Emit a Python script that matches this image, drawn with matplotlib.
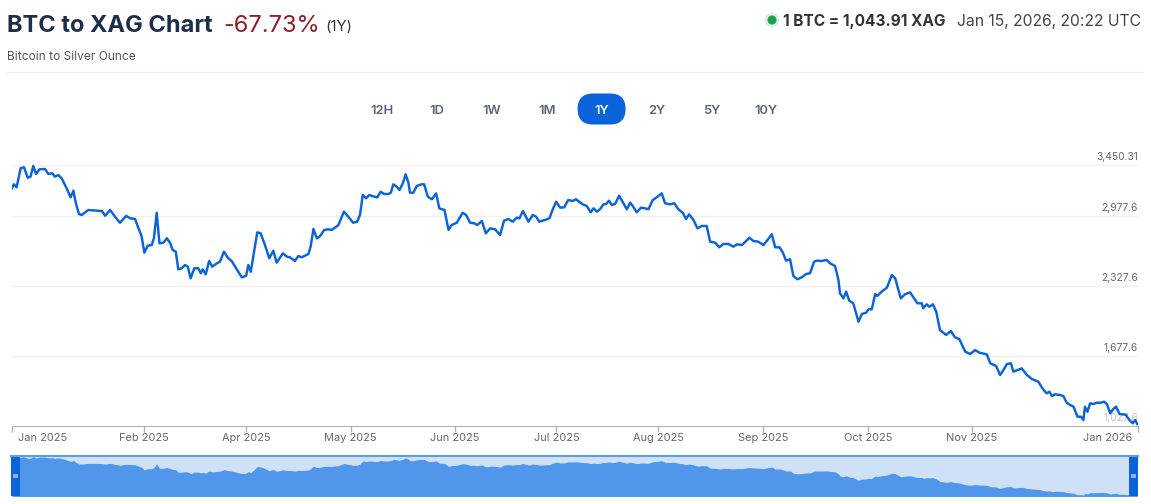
import matplotlib.pyplot as plt
from matplotlib.patches import FancyBboxPatch, Rectangle, Circle

W, H = 1151, 504

# days since start of the 1Y window, and BTC price in silver ounces
days = [0, 0.6, 1.5, 2.8, 3.9, 5.1, 6.0, 6.9, 7.8, 8.9, 10.7, 11.8, 13.1, 13.9, 15.0, 16.1,
        17.7, 19.0, 19.9, 20.7, 21.7, 22.6, 24.7, 27.5, 29.1, 30.2, 31.8, 33.4, 35.0, 37.0,
        38.3, 39.9, 40.8, 42.0, 42.9, 44.0, 45.3, 46.0, 46.9, 47.8, 49.1, 50.2, 51.2, 52.1,
        53.1, 53.9, 55.0, 56.1, 57.0, 57.9, 59.1, 60.4, 61.2, 61.8, 62.8, 63.9, 64.9, 66.4,
        67.4, 68.7, 70.1, 71.2, 72.8, 74.5, 75.9, 76.6, 77.4, 78.2, 79.5, 80.6, 82.0, 83.4,
        84.7, 85.8, 87.8, 89.1, 90.1, 91.7, 92.8, 93.9, 96.1, 96.8, 97.7, 98.8, 99.9, 101.2,
        102.5, 103.6, 104.7, 105.8, 107.6, 109.0, 110.6, 111.9, 112.8, 113.7, 114.8, 115.8,
        117.4, 118.4, 119.5, 120.6, 122.0, 122.8, 123.6, 124.7, 125.6, 126.7, 127.6, 128.5,
        129.0, 130.1, 131.2, 132.8, 133.6, 134.8, 136.1, 137.5, 138.5, 140.2, 141.5, 142.5,
        144.2, 145.0, 146.1, 147.2, 148.5, 149.8, 150.8, 152.3, 153.6, 155.0, 156.6, 158.2,
        159.5, 160.9, 162.3, 163.6, 164.5, 165.6, 166.3, 167.4, 168.8, 169.9, 170.9, 172.8,
        174.2, 175.3, 176.4, 177.7, 179.0, 180.3, 181.8, 182.8, 183.9, 185.0, 186.3, 187.6,
        188.5, 189.6, 190.6, 191.7, 192.6, 193.5, 194.4, 195.5, 196.8, 197.9, 199.3, 200.4,
        201.2, 202.5, 203.9, 205.2, 206.3, 207.7, 209.0, 210.6, 211.7, 213.3, 214.7, 216.0,
        217.4, 218.5, 219.5, 220.9, 222.2, 223.6, 225.2, 226.3, 227.9, 229.3, 230.6, 232.2,
        233.8, 235.1, 236.6, 238.0, 239.0, 240.3, 241.9, 243.6, 244.9, 246.3, 247.4, 248.8,
        249.9, 250.9, 252.2, 253.3, 254.6, 256.0, 257.4, 258.7, 260.0, 260.9, 262.5, 264.1,
        265.2, 266.8, 267.9, 268.4, 269.5, 270.4, 271.4, 272.7, 274.4, 275.5, 276.9, 277.6,
        278.7, 279.8, 280.5, 281.9, 283.6, 285.2, 286.3, 288.1, 289.5, 291.1, 292.2, 293.5,
        294.9, 295.4, 296.5, 297.4, 298.5, 299.6, 300.8, 302.8, 304.3, 305.7, 307.1, 309.0,
        310.6, 312.2, 313.6, 316.0, 317.1, 319.0, 320.3, 321.4, 322.5, 323.8, 324.6, 327.3,
        329.0, 330.6, 332.7, 333.8, 334.6, 335.4, 336.3, 337.1, 338.1, 339.8, 340.8, 341.9,
        343.0, 344.1, 345.4, 346.5, 347.3, 347.8, 348.6, 349.5, 350.6, 351.6, 352.9, 354.0,
        354.9, 356.0, 356.9, 357.9, 359.0, 360.1, 361.1, 362.2, 363.3, 364.1, 364.8]
ratio = [3235, 3272, 3244, 3421, 3430, 3333, 3343, 3442, 3368, 3411, 3414, 3368, 3374, 3343, 3358, 3328,
         3235, 3151, 3213, 3096, 2996, 2987, 3033, 3027, 3024, 2980, 3033, 2971, 2915, 2978,
         2956, 2950, 2878, 2792, 2637, 2702, 2708, 2771, 3008, 2724, 2730, 2771, 2730, 2662,
         2646, 2483, 2492, 2523, 2507, 2399, 2492, 2492, 2446, 2483, 2436, 2560, 2507, 2538,
         2553, 2646, 2585, 2560, 2485, 2408, 2423, 2523, 2460, 2600, 2826, 2817, 2708, 2585,
         2655, 2544, 2631, 2600, 2594, 2560, 2606, 2594, 2625, 2693, 2857, 2771, 2792, 2848,
         2854, 2848, 2869, 2894, 3018, 2971, 2915, 2925, 2987, 3173, 3142, 3173,
         3157, 3151, 3203, 3182, 3182, 3194, 3272, 3250, 3219, 3281, 3365, 3287,
         3194, 3194, 3256, 3272, 3272, 3157, 3133, 3188, 3049, 3033, 2848, 2894,
         2915, 2956, 3008, 2987, 2915, 2910, 2894, 2931, 2817, 2863, 2854, 2801,
         2934, 2950, 2925, 2962, 2956, 3024, 2987, 2925, 2987, 2971, 2925, 2941,
         2956, 3040, 3110, 3055, 3058, 3126, 3117, 3133, 3110, 3086, 3071, 3012,
         3049, 3018, 3040, 3086, 3089, 3120, 3080, 3089, 3166, 3110, 3040, 3101,
         3071, 3012, 3055, 3049, 3040, 3126, 3151, 3188, 3096, 3086, 3096, 3040,
         3008, 2950, 2993, 2941, 2863, 2885, 2885, 2739, 2730, 2687, 2718, 2718,
         2693, 2715, 2708, 2746, 2776, 2746, 2739, 2708, 2755, 2808, 2687, 2687,
         2637, 2563, 2576, 2420, 2390, 2408, 2439, 2446, 2553, 2563, 2560, 2569,
         2538, 2513, 2383, 2260, 2213, 2275, 2191, 2167, 1996, 2068, 2080, 2111,
         2111, 2253, 2235, 2275, 2312, 2430, 2399, 2213, 2251, 2269, 2223, 2167,
         2167, 2121, 2158, 2135, 2158, 2089, 1919, 1873, 1910, 1851, 1833, 1718,
         1696, 1733, 1708, 1693, 1610, 1585, 1501, 1548, 1603, 1610, 1532, 1563,
         1501, 1464, 1439, 1387, 1356, 1331, 1346, 1306, 1322, 1315, 1306, 1244,
         1223, 1207, 1114, 1114, 1083, 1207, 1160, 1238, 1232, 1244, 1244, 1253,
         1232, 1145, 1183, 1207, 1139, 1136, 1130, 1083, 1053, 1083, 1044]

tick_days = [0, 42.9, 75.8, 109.8, 143.6, 176.5, 209.5, 243.4, 277.4, 311.2, 365]
tick_labels = ['Jan 2025', 'Feb 2025', 'Apr 2025', 'May 2025', 'Jun 2025', 'Jul 2025',
               'Aug 2025', 'Sep 2025', 'Oct 2025', 'Nov 2025', 'Jan 2026']
grid_levels = [3450.31, 2977.6, 2327.6, 1677.6, 1027.6]
grid_labels = ['3,450.31', '2,977.6', '2,327.6', '1,677.6', '1,027.6']
ranges = ['12H', '1D', '1W', '1M', '1Y', '2Y', '5Y', '10Y']
active_range = '1Y'

BLUE = '#0a63d8'

plt.rcParams['font.family'] = ['Inter', 'DejaVu Sans']


def box(left, top, right, bottom):
    # pixel box -> figure fraction rect
    return [left / W, 1 - bottom / H, (right - left) / W, (bottom - top) / H]


def pixel_axes(zorder):
    a = fig.add_axes([0, 0, 1, 1])
    a.set_xlim(0, W)
    a.set_ylim(H, 0)
    a.axis('off')
    a.patch.set_alpha(0)
    a.set_zorder(zorder)
    return a


fig = plt.figure(figsize=(W / 100, H / 100), dpi=100)
fig.patch.set_facecolor('white')

# background layer in pixel units for header and buttons
bg = pixel_axes(0)

# header
bg.text(7, 32.3, 'BTC to XAG Chart', fontsize=17, fontweight='bold',
        color='#1f2d4d', va='baseline', ha='left')
bg.text(223, 32.3, '-67.73%', fontsize=17, color='#8b1c2c', va='baseline', ha='left')
bg.text(325, 31, '(1Y)', fontsize=10.8, color='#333333', va='baseline', ha='left')
bg.text(7, 60, 'Bitcoin to Silver Ounce', fontsize=8.6, color='#555555',
        va='baseline', ha='left')
bg.add_patch(Circle((772, 20), 7, color='#d7eedd', lw=0))
bg.add_patch(Circle((772, 20), 4.5, color='#17a34a', lw=0))
bg.text(783, 26, '1 BTC = 1,043.91 XAG', fontsize=11.1, fontweight='bold',
        color='#333333', va='baseline', ha='left')
bg.text(1141, 26, 'Jan 15, 2026, 20:22 UTC', fontsize=11.3, color='#444444',
        va='baseline', ha='right')
bg.plot([7, 1143], [72, 72], color='#ececec', lw=1)

# range selector buttons
for i, name in enumerate(ranges):
    cx = 382 + i * 54.9
    if name == active_range:
        bg.add_patch(FancyBboxPatch((cx - 24, 93.5), 48, 31,
                                    boxstyle='round,pad=0,rounding_size=15.5',
                                    color=BLUE, lw=0))
    bg.text(cx, 114.3, name, fontsize=9.3, fontweight='semibold',
            color='white' if name == active_range else '#5a6375',
            ha='center', va='baseline')

# main chart
ax = fig.add_axes(box(12, 155, 1138, 426))
ax.patch.set_alpha(0)
ax.set_zorder(2)
ax.plot(days, ratio, color=BLUE, lw=1.75, zorder=3, solid_joinstyle='round')
ax.set_xlim(0, 365)
ax.set_ylim(1027.6, 1027.6 + 271 * 650 / 70)
for lvl, lbl in zip(grid_levels, grid_labels):
    last = lvl == grid_levels[-1]
    if not last:
        ax.axhline(lvl, color='#f0f0f0', lw=1, zorder=1)
    ax.annotate(lbl, xy=(1, lvl), xycoords=('axes fraction', 'data'),
                xytext=(0, 3.6), textcoords='offset points', ha='right', va='baseline',
                fontsize=7.4, color='#c4c4c4' if last else '#666666', zorder=2)
for sp in ['top', 'left', 'right']:
    ax.spines[sp].set_visible(False)
ax.spines['bottom'].set_color('#b3b3b3')
ax.set_yticks([])
ax.set_xticks(tick_days, [''] * len(tick_days))
ax.tick_params(axis='x', length=4.3, width=1, color='#b3b3b3', direction='out')
for i, (d, lbl) in enumerate(zip(tick_days, tick_labels)):
    dx = 22 if i == 0 else (-22 if i == len(tick_days) - 1 else 0)
    ax.annotate(lbl, xy=(d, 0), xycoords=('data', 'axes fraction'),
                xytext=(dx, -10.8), textcoords='offset points', ha='center',
                va='baseline', fontsize=7.9, color='#666666')

# navigator
nav = fig.add_axes(box(12, 456, 1138, 496))
nav.set_zorder(1)
nav.set_facecolor('#cfe1f7')
nav.fill_between(days, ratio, 0, color='#5096ea', lw=0)
nav.set_xlim(0, 365)
nav.set_ylim(min(ratio) - 10, max(ratio) + 40)
nav.set_xticks([])
nav.set_yticks([])
for sp in nav.spines.values():
    sp.set_visible(False)

# navigator outline and handles on top
fg = pixel_axes(3)
fg.plot([11, 1138], [455.7, 455.7], color='#5e9ded', lw=1.5)
for hx in [11.5, 1129.5]:
    fg.add_patch(Rectangle((hx, 455), 8.5, 41, color=BLUE, lw=0))
    fg.add_patch(Rectangle((hx + 2, 474), 5, 3.5, color='#86b6f2', lw=0))

fig.savefig('out.png', dpi=100, facecolor='white')
